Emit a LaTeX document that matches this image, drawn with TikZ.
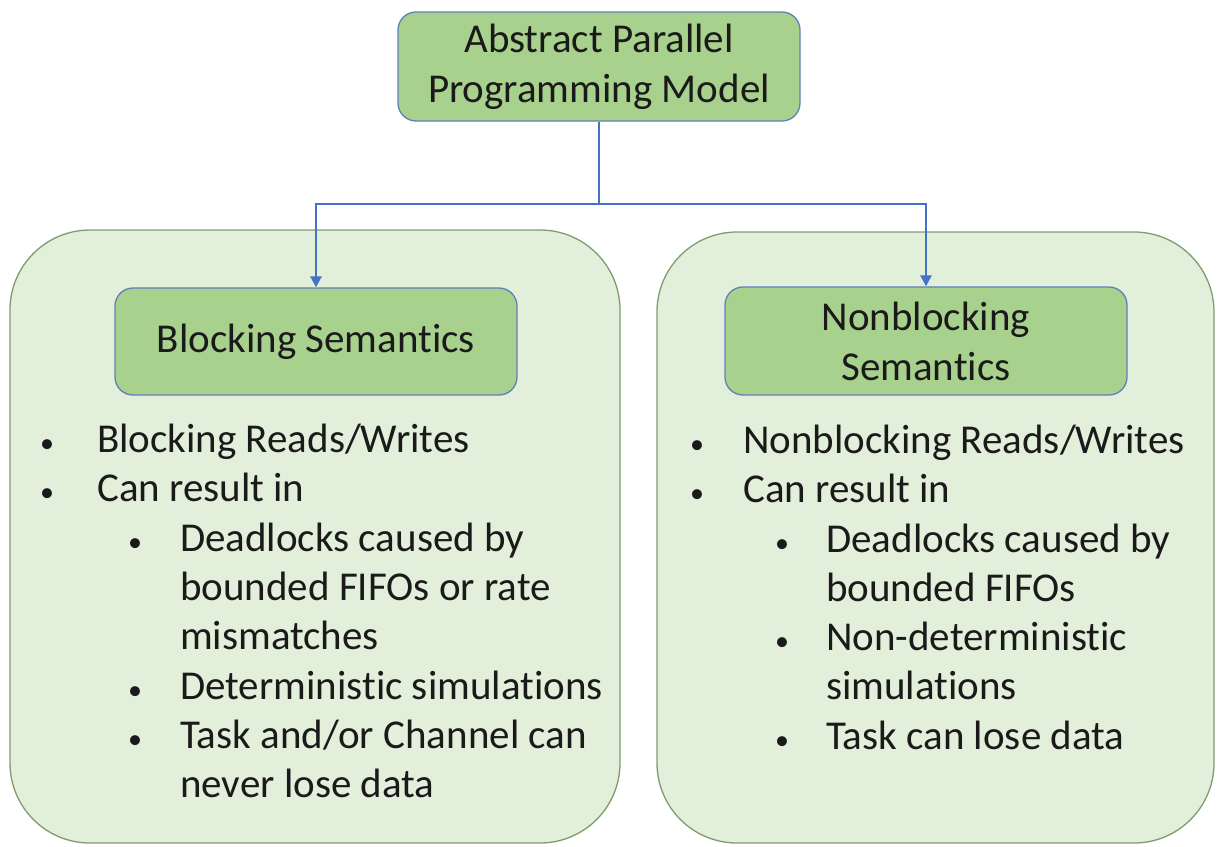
\documentclass[tikz,border=0pt]{standalone}
\usepackage{fontspec}
\setmainfont[Ligatures = NoCommon]{Carlito}
\usetikzlibrary{arrows.meta}

\definecolor{panelfill}{RGB}{226,239,218}
\definecolor{paneldraw}{RGB}{128,156,110}
\definecolor{boxfill}{RGB}{169,209,142}
\definecolor{boxdraw}{RGB}{96,128,184}
\definecolor{linkblue}{RGB}{68,114,196}
\definecolor{ink}{RGB}{26,26,26}

\tikzset{
	panel/.style = {draw = paneldraw, fill = panelfill, line width = 1.3pt, rounded corners = 80pt, inner sep = 0pt},
	box/.style = {draw = boxdraw, fill = boxfill, line width = 1.3pt, rounded corners = 18pt, align = center, text = ink, font = \fontsize{41}{50}\selectfont, inner sep = 0pt},
	line/.style = {anchor = base west, inner sep = 0pt, text = ink, font = \fontsize{41}{49}\selectfont},
	dot/.style = {anchor = base, inner sep = 0pt, text = ink, font = \fontsize{28}{34}\selectfont},
	link/.style = {draw = linkblue, line width = 2.6pt}
}

\begin{document}
\begin{tikzpicture}[x = 1pt, y = -1pt]
	\useasboundingbox (0, 0) rectangle (1217, 846);
	
	%	panels
	\node[panel, minimum width = 610pt, minimum height = 613pt] (leftpanel) at (315, 536.5) {};
	\node[panel, minimum width = 557pt, minimum height = 611pt] (rightpanel) at (935.5, 537.5) {};
	
	%	boxes
	\node[box, minimum width = 402pt, minimum height = 109pt] (model) at (599, 66.5) {\raisebox{-3pt}{Abstract Parallel}\\\raisebox{-3pt}{Programming Model}};
	\node[box, minimum width = 402pt, minimum height = 107pt] (blocking) at (316, 341.5) {\raisebox{-2pt}{Blocking Semantics}};
	\node[box, minimum width = 402pt, minimum height = 108pt] (nonblocking) at (926, 341) {Nonblocking\\Semantics};
	
	%	connectors
	\coordinate (fork) at (599, 204);
	\draw[link] (model.south) -- (fork);
	\draw[link, -{Triangle[length = 11pt, width = 11pt]}] (fork) -| (blocking.north);
	\draw[link, -{Triangle[length = 11pt, width = 11pt]}] (fork) -| (nonblocking.north);
	
	%	left list
	\foreach \n/\x/\y/\txt in {la/97/452/{Blocking Reads/Writes}, lb/97/501/{Can result in}, lc/180/551/{Deadlocks caused by}, ld/180/600/{bounded FIFOs or rate}, le/180/649/{mismatches}, lf/180/699/{Deterministic simulations}, lg/180/748/{Task and/or Channel can}, lh/180/797/{never lose data}}
		\node[line] (\n) at (\x, \y) {\txt};
	\foreach \n/\x/\y in {dla/47/452, dlb/47/501, dlc/135/551, dlf/135/699, dlg/135/748}
		\node[dot] (\n) at (\x, \y) {\textbullet};
	
	%	right list
	\foreach \n/\x/\y/\txt in {ra/743/453/{Nonblocking Reads/Writes}, rb/743/502/{Can result in}, rc/826/552/{Deadlocks caused by}, rd/826/601/{bounded FIFOs}, re/826/650/{Non-deterministic}, rf/826/699/{simulations}, rg/826/749/{Task can lose data}}
		\node[line] (\n) at (\x, \y) {\txt};
	\foreach \n/\x/\y in {dra/697/453, drb/697/502, drc/782/552, dre/782/650, drg/782/749}
		\node[dot] (\n) at (\x, \y) {\textbullet};
\end{tikzpicture}
\end{document}
